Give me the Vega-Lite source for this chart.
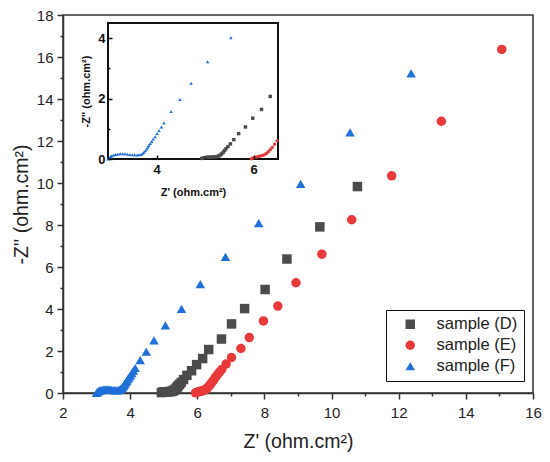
{
  "$schema": "https://vega.github.io/schema/vega-lite/v6.json",
  "width": 470,
  "height": 378,
  "autosize": "none",
  "padding": {"left": 63, "top": 15, "right": 17, "bottom": 69},
  "background": "white",
  "config": {
    "font": "Liberation Sans",
    "view": {"stroke": "#333333", "strokeWidth": 1.5}
  },
  "datasets": {
    "eis": [
      {"sample": "sample (D)", "x": 4.93, "y": 0.02},
      {"sample": "sample (D)", "x": 4.97, "y": 0.04},
      {"sample": "sample (D)", "x": 5.01, "y": 0.05},
      {"sample": "sample (D)", "x": 5.05, "y": 0.06},
      {"sample": "sample (D)", "x": 5.09, "y": 0.06},
      {"sample": "sample (D)", "x": 5.13, "y": 0.06},
      {"sample": "sample (D)", "x": 5.17, "y": 0.07},
      {"sample": "sample (D)", "x": 5.21, "y": 0.07},
      {"sample": "sample (D)", "x": 5.25, "y": 0.08},
      {"sample": "sample (D)", "x": 5.28, "y": 0.10},
      {"sample": "sample (D)", "x": 5.31, "y": 0.13},
      {"sample": "sample (D)", "x": 5.34, "y": 0.17},
      {"sample": "sample (D)", "x": 5.37, "y": 0.22},
      {"sample": "sample (D)", "x": 5.40, "y": 0.28},
      {"sample": "sample (D)", "x": 5.43, "y": 0.34},
      {"sample": "sample (D)", "x": 5.47, "y": 0.41},
      {"sample": "sample (D)", "x": 5.52, "y": 0.50},
      {"sample": "sample (D)", "x": 5.59, "y": 0.64},
      {"sample": "sample (D)", "x": 5.69, "y": 0.84},
      {"sample": "sample (D)", "x": 5.83, "y": 1.06},
      {"sample": "sample (D)", "x": 5.98, "y": 1.35},
      {"sample": "sample (D)", "x": 6.16, "y": 1.64},
      {"sample": "sample (D)", "x": 6.34, "y": 2.07},
      {"sample": "sample (D)", "x": 6.72, "y": 2.57},
      {"sample": "sample (D)", "x": 7.02, "y": 3.29},
      {"sample": "sample (D)", "x": 7.41, "y": 4.02},
      {"sample": "sample (D)", "x": 8.02, "y": 4.93},
      {"sample": "sample (D)", "x": 8.67, "y": 6.38},
      {"sample": "sample (D)", "x": 9.65, "y": 7.91},
      {"sample": "sample (D)", "x": 10.77, "y": 9.83},
      {"sample": "sample (E)", "x": 5.95, "y": 0.01},
      {"sample": "sample (E)", "x": 5.98, "y": 0.03},
      {"sample": "sample (E)", "x": 6.02, "y": 0.05},
      {"sample": "sample (E)", "x": 6.06, "y": 0.07},
      {"sample": "sample (E)", "x": 6.10, "y": 0.08},
      {"sample": "sample (E)", "x": 6.14, "y": 0.10},
      {"sample": "sample (E)", "x": 6.18, "y": 0.12},
      {"sample": "sample (E)", "x": 6.22, "y": 0.14},
      {"sample": "sample (E)", "x": 6.26, "y": 0.18},
      {"sample": "sample (E)", "x": 6.30, "y": 0.24},
      {"sample": "sample (E)", "x": 6.34, "y": 0.31},
      {"sample": "sample (E)", "x": 6.38, "y": 0.38},
      {"sample": "sample (E)", "x": 6.43, "y": 0.49},
      {"sample": "sample (E)", "x": 6.48, "y": 0.60},
      {"sample": "sample (E)", "x": 6.54, "y": 0.74},
      {"sample": "sample (E)", "x": 6.60, "y": 0.87},
      {"sample": "sample (E)", "x": 6.66, "y": 0.99},
      {"sample": "sample (E)", "x": 6.73, "y": 1.12},
      {"sample": "sample (E)", "x": 6.86, "y": 1.38},
      {"sample": "sample (E)", "x": 7.02, "y": 1.69},
      {"sample": "sample (E)", "x": 7.30, "y": 2.12},
      {"sample": "sample (E)", "x": 7.55, "y": 2.64},
      {"sample": "sample (E)", "x": 7.97, "y": 3.43},
      {"sample": "sample (E)", "x": 8.40, "y": 4.14},
      {"sample": "sample (E)", "x": 8.94, "y": 5.25},
      {"sample": "sample (E)", "x": 9.71, "y": 6.61},
      {"sample": "sample (E)", "x": 10.60, "y": 8.25},
      {"sample": "sample (E)", "x": 11.79, "y": 10.34},
      {"sample": "sample (E)", "x": 13.27, "y": 12.94},
      {"sample": "sample (E)", "x": 15.07, "y": 16.36},
      {"sample": "sample (F)", "x": 3.00, "y": 0.00},
      {"sample": "sample (F)", "x": 3.02, "y": 0.04},
      {"sample": "sample (F)", "x": 3.05, "y": 0.08},
      {"sample": "sample (F)", "x": 3.08, "y": 0.11},
      {"sample": "sample (F)", "x": 3.12, "y": 0.13},
      {"sample": "sample (F)", "x": 3.16, "y": 0.15},
      {"sample": "sample (F)", "x": 3.20, "y": 0.16},
      {"sample": "sample (F)", "x": 3.25, "y": 0.17},
      {"sample": "sample (F)", "x": 3.30, "y": 0.17},
      {"sample": "sample (F)", "x": 3.35, "y": 0.17},
      {"sample": "sample (F)", "x": 3.40, "y": 0.16},
      {"sample": "sample (F)", "x": 3.45, "y": 0.15},
      {"sample": "sample (F)", "x": 3.50, "y": 0.14},
      {"sample": "sample (F)", "x": 3.55, "y": 0.14},
      {"sample": "sample (F)", "x": 3.60, "y": 0.13},
      {"sample": "sample (F)", "x": 3.64, "y": 0.14},
      {"sample": "sample (F)", "x": 3.68, "y": 0.15},
      {"sample": "sample (F)", "x": 3.71, "y": 0.18},
      {"sample": "sample (F)", "x": 3.74, "y": 0.22},
      {"sample": "sample (F)", "x": 3.77, "y": 0.27},
      {"sample": "sample (F)", "x": 3.80, "y": 0.33},
      {"sample": "sample (F)", "x": 3.82, "y": 0.39},
      {"sample": "sample (F)", "x": 3.84, "y": 0.45},
      {"sample": "sample (F)", "x": 3.87, "y": 0.51},
      {"sample": "sample (F)", "x": 3.90, "y": 0.58},
      {"sample": "sample (F)", "x": 3.93, "y": 0.66},
      {"sample": "sample (F)", "x": 3.97, "y": 0.74},
      {"sample": "sample (F)", "x": 4.01, "y": 0.84},
      {"sample": "sample (F)", "x": 4.05, "y": 0.94},
      {"sample": "sample (F)", "x": 4.10, "y": 1.06},
      {"sample": "sample (F)", "x": 4.15, "y": 1.19},
      {"sample": "sample (F)", "x": 4.30, "y": 1.57},
      {"sample": "sample (F)", "x": 4.48, "y": 1.97},
      {"sample": "sample (F)", "x": 4.71, "y": 2.51},
      {"sample": "sample (F)", "x": 5.05, "y": 3.22},
      {"sample": "sample (F)", "x": 5.53, "y": 4.01},
      {"sample": "sample (F)", "x": 6.09, "y": 5.18},
      {"sample": "sample (F)", "x": 6.84, "y": 6.48},
      {"sample": "sample (F)", "x": 7.83, "y": 8.09},
      {"sample": "sample (F)", "x": 9.08, "y": 9.96},
      {"sample": "sample (F)", "x": 10.55, "y": 12.41},
      {"sample": "sample (F)", "x": 12.37, "y": 15.22}
    ]
  },
  "data": {"name": "eis"},
  "layer": [
    {
      "mark": {"type": "point", "filled": true, "opacity": 1, "size": 90},
      "encoding": {
        "x": {
          "field": "x",
          "type": "quantitative",
          "scale": {"domain": [2, 16], "nice": false, "zero": false},
          "axis": {
            "title": "Z' (ohm.cm²)",
            "values": [2, 3, 4, 5, 6, 7, 8, 9, 10, 11, 12, 13, 14, 15, 16],
            "labelExpr": "datum.value % 2 ? '' : datum.label",
            "labelOverlap": false,
            "labelFlush": false,
            "grid": false,
            "domainColor": "#333333",
            "domainWidth": 1.5,
            "tickColor": "#333333",
            "tickWidth": 1.5,
            "tickSize": {"condition": {"test": "datum.value % 2", "value": 3}, "value": 6},
            "labelFontSize": 15,
            "labelColor": "#222222",
            "labelPadding": 6,
            "titleFontSize": 19.5,
            "titleFontWeight": "normal",
            "titleColor": "#222222",
            "titlePadding": 12
          }
        },
        "y": {
          "field": "y",
          "type": "quantitative",
          "scale": {"domain": [0, 18], "nice": false},
          "axis": {
            "title": "-Z'' (ohm.cm²)",
            "values": [0, 1, 2, 3, 4, 5, 6, 7, 8, 9, 10, 11, 12, 13, 14, 15, 16, 17, 18],
            "labelExpr": "datum.value % 2 ? '' : datum.label",
            "labelOverlap": false,
            "labelFlush": false,
            "grid": false,
            "domainColor": "#333333",
            "domainWidth": 1.5,
            "tickColor": "#333333",
            "tickWidth": 1.5,
            "tickSize": {"condition": {"test": "datum.value % 2", "value": 3}, "value": 6},
            "labelFontSize": 15,
            "labelColor": "#222222",
            "labelPadding": 4,
            "titleFontSize": 19.5,
            "titleFontWeight": "normal",
            "titleColor": "#222222",
            "titlePadding": 5
          }
        },
        "color": {
          "field": "sample",
          "type": "nominal",
          "scale": {
            "domain": ["sample (D)", "sample (E)", "sample (F)"],
            "range": ["#4b4b4b", "#e8393b", "#1f70d9"]
          },
          "legend": {
            "orient": "none",
            "legendX": 323,
            "legendY": 295,
            "title": null,
            "strokeColor": "#111111",
            "fillColor": "white",
            "padding": 6,
            "labelFontSize": 16.5,
            "labelColor": "#222222",
            "symbolSize": 90,
            "symbolOffset": 10,
            "labelOffset": 18,
            "rowPadding": 4,
            "encode": {"legend": {"update": {"strokeWidth": {"value": 1.5}}}}
          }
        },
        "shape": {
          "field": "sample",
          "type": "nominal",
          "scale": {
            "domain": ["sample (D)", "sample (E)", "sample (F)"],
            "range": ["square", "circle", "triangle-up"]
          }
        }
      }
    },
    {
      "layer": [
        {
          "data": {"values": [{}]},
          "mark": {"type": "rect", "filled": false, "stroke": "#111111", "strokeWidth": 2},
          "encoding": {
            "x": {"datum": 3, "type": "quantitative"},
            "x2": {"datum": 6.5},
            "y": {"datum": 0, "type": "quantitative"},
            "y2": {"datum": 4.5}
          }
        },
        {
          "transform": [{"filter": "datum.x >= 3 && datum.x <= 6.5 && datum.y <= 4.5"}],
          "mark": {"type": "point", "filled": true, "opacity": 1, "size": 12},
          "encoding": {
            "x": {
              "field": "x",
              "type": "quantitative",
              "scale": {"domain": [3, 6.5], "range": [45, 215], "nice": false, "zero": false},
              "axis": {
                "orient": "bottom",
                "offset": -234,
                "zindex": 1,
                "title": "Z' (ohm.cm²)",
                "values": [3, 4, 5, 6],
                "labelExpr": "datum.value % 2 ? '' : format(datum.value, 'd')",
                "labelOverlap": false,
                "labelFlush": false,
                "grid": false,
                "domain": false,
                "tickColor": "#111111",
                "tickWidth": 1.5,
                "tickSize": {"condition": {"test": "datum.value % 2", "value": -2}, "value": -4},
                "labelFontSize": 13,
                "labelFontWeight": "bold",
                "labelColor": "#111111",
                "labelPadding": 8,
                "titleFontSize": 11,
                "titleFontWeight": "bold",
                "titleColor": "#111111",
                "titlePadding": 8
              }
            },
            "y": {
              "field": "y",
              "type": "quantitative",
              "scale": {"domain": [0, 4.5], "range": [144, 8], "nice": false},
              "axis": {
                "orient": "left",
                "offset": -45,
                "zindex": 1,
                "title": "-Z'' (ohm.cm²)",
                "values": [0, 1, 2, 3, 4],
                "labelExpr": "datum.value % 2 ? '' : format(datum.value, 'd')",
                "labelOverlap": false,
                "labelFlush": false,
                "grid": false,
                "domain": false,
                "tickColor": "#111111",
                "tickWidth": 1.5,
                "tickSize": {"condition": {"test": "datum.value % 2", "value": -2}, "value": -4},
                "labelFontSize": 13,
                "labelFontWeight": "bold",
                "labelColor": "#111111",
                "labelPadding": 7,
                "titleFontSize": 11,
                "titleFontWeight": "bold",
                "titleColor": "#111111",
                "titlePadding": 6
              }
            },
            "color": {"field": "sample", "type": "nominal"},
            "shape": {"field": "sample", "type": "nominal"}
          }
        }
      ]
    }
  ],
  "resolve": {
    "scale": {"x": "independent", "y": "independent"},
    "axis": {"x": "independent", "y": "independent"}
  }
}
